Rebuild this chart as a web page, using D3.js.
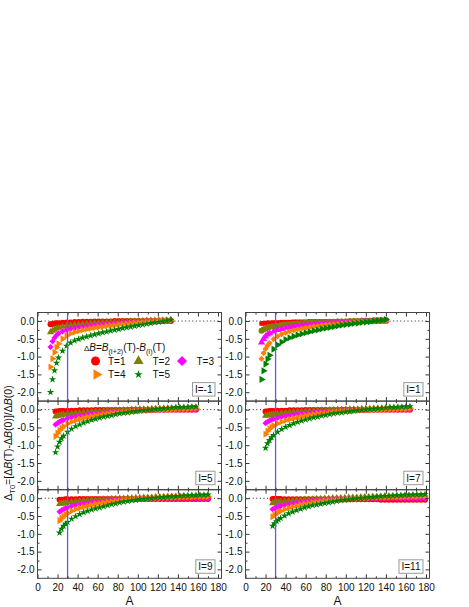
<!DOCTYPE html>
<html>
<head>
<meta charset="utf-8">
<script src="https://cdn.jsdelivr.net/npm/d3@7"></script>
<style>
	body { margin: 0; background: #fff; }
	svg { display: block; font-family: "Liberation Sans", Arial, sans-serif; }
</style>
</head>
<body>
<script>
//panel and series names
var panelNames = ["I=-1", "I=1", "I=5", "I=7", "I=9", "I=11"];
var seriesNames = ["T=1", "T=2", "T=3", "T=4", "T=5"];

//x ticks and y ticks
var xMajor = [0, 20, 40, 60, 80, 100, 120, 140, 160, 180];
var xMinor = [10, 30, 50, 70, 90, 110, 130, 150, 170];
var yMajor = [0, -0.5, -1, -1.5, -2];
var yMinor = [-0.25, -0.75, -1.25, -1.75];
var aCut = 30; //blue marker line

//I=-1
var am1 = [13,15,17,19,21,25,29,33,37,41,45,49,53,57,61,65,69,73,77,81,85,89,93,97,101,105,109,113,117,121,125,129,133];
var m1t1 = [-0.09,-0.08,-0.07,-0.06,-0.06,-0.05,-0.04,-0.04,-0.03,-0.03,-0.02,-0.02,-0.02,-0.01,-0.01,-0.01,-0.01,-0.01,0,0,0,0,0,0,0,0,0,0,0,0,0,0,0];
var m1t2 = [-0.31,-0.27,-0.24,-0.21,-0.19,-0.16,-0.14,-0.12,-0.11,-0.10,-0.09,-0.08,-0.07,-0.06,-0.06,-0.05,-0.04,-0.04,-0.03,-0.03,-0.02,-0.02,-0.01,-0.01,0,0,0.01,0.01,0.01,0.02,0.02,0.02,0.03];
var m1t3 = [-0.73,-0.57,-0.47,-0.40,-0.35,-0.29,-0.25,-0.22,-0.20,-0.18,-0.16,-0.15,-0.13,-0.12,-0.11,-0.10,-0.09,-0.08,-0.07,-0.07,-0.06,-0.05,-0.05,-0.04,-0.03,-0.03,-0.02,-0.02,-0.01,-0.01,0,0,0];
var m1t4 = [-1.29,-1.06,-0.88,-0.74,-0.64,-0.50,-0.41,-0.35,-0.31,-0.28,-0.25,-0.23,-0.21,-0.19,-0.17,-0.16,-0.14,-0.13,-0.12,-0.10,-0.09,-0.08,-0.07,-0.06,-0.05,-0.04,-0.03,-0.02,-0.01,0,0.01,0.01,0.02];
var m1t5 = [-2.00,-1.64,-1.39,-1.18,-1.03,-0.84,-0.70,-0.61,-0.55,-0.51,-0.47,-0.44,-0.41,-0.38,-0.35,-0.32,-0.30,-0.27,-0.25,-0.23,-0.20,-0.18,-0.16,-0.14,-0.12,-0.10,-0.08,-0.06,-0.04,-0.03,-0.01,0.01,0.03];

//I=1
var a1 = [16,18,20,22,24,28,32,36,40,44,48,52,56,60,64,68,72,76,80,84,88,92,96,100,104,108,112,116,120,124,128,132,136,140];
var p1t1 = [-0.07,-0.06,-0.06,-0.05,-0.05,-0.04,-0.04,-0.03,-0.03,-0.03,-0.02,-0.02,-0.02,-0.02,-0.01,-0.01,-0.01,-0.01,-0.01,-0.01,-0.01,-0.01,-0.01,-0.01,-0.01,-0.01,-0.01,-0.01,-0.01,-0.01,-0.01,-0.01,-0.01,-0.01];
var p1t2 = [-0.27,-0.24,-0.21,-0.19,-0.17,-0.15,-0.13,-0.11,-0.10,-0.09,-0.08,-0.07,-0.06,-0.05,-0.05,-0.04,-0.04,-0.03,-0.03,-0.02,-0.02,-0.01,-0.01,-0.01,0,0,0,0.01,0.01,0.01,0.02,0.02,0.02,0.03];
var p1t3 = [-0.60,-0.50,-0.43,-0.38,-0.34,-0.29,-0.25,-0.22,-0.19,-0.17,-0.15,-0.14,-0.12,-0.11,-0.10,-0.09,-0.08,-0.07,-0.06,-0.06,-0.05,-0.04,-0.04,-0.03,-0.03,-0.02,-0.02,-0.01,-0.01,-0.01,0,0,0,0.01];
var p1t4 = [-1.06,-0.90,-0.78,-0.69,-0.62,-0.51,-0.43,-0.37,-0.33,-0.29,-0.26,-0.23,-0.21,-0.19,-0.17,-0.15,-0.14,-0.12,-0.11,-0.10,-0.09,-0.08,-0.07,-0.06,-0.05,-0.04,-0.03,-0.02,-0.02,-0.01,0,0,0.01,0.01];
var p1t5 = [-1.64,-1.40,-1.21,-1.07,-0.96,-0.79,-0.67,-0.59,-0.52,-0.47,-0.43,-0.39,-0.36,-0.33,-0.30,-0.27,-0.25,-0.22,-0.20,-0.18,-0.16,-0.14,-0.12,-0.10,-0.09,-0.07,-0.06,-0.04,-0.03,-0.02,0,0.01,0.02,0.04];

//I=5
var a5 = [18,20,22,24,26,30,34,38,42,46,50,54,58,62,66,70,74,78,82,86,90,94,98,102,106,110,114,118,122,126,130,134,138,142,146,150,154,158];
var p5t1 = [-0.05,-0.05,-0.04,-0.04,-0.04,-0.03,-0.03,-0.03,-0.02,-0.02,-0.02,-0.02,-0.01,-0.01,-0.01,-0.01,-0.01,-0.01,-0.01,-0.01,-0.01,0,0,0,0,0,0,0,0,0,0,0,0,0,0,0,0,0];
var p5t2 = [-0.19,-0.17,-0.16,-0.15,-0.14,-0.12,-0.11,-0.10,-0.09,-0.08,-0.07,-0.06,-0.05,-0.05,-0.04,-0.03,-0.03,-0.02,-0.02,-0.01,-0.01,0,0,0.01,0.01,0.01,0.02,0.02,0.02,0.03,0.03,0.03,0.04,0.04,0.04,0.05,0.05,0.05];
var p5t3 = [-0.42,-0.38,-0.34,-0.31,-0.29,-0.24,-0.21,-0.19,-0.17,-0.15,-0.13,-0.12,-0.11,-0.10,-0.09,-0.08,-0.07,-0.06,-0.05,-0.05,-0.04,-0.04,-0.03,-0.03,-0.02,-0.02,-0.02,-0.01,-0.01,-0.01,0,0,0,0,0,0,0,0];
var p5t4 = [-0.75,-0.66,-0.58,-0.52,-0.47,-0.39,-0.34,-0.30,-0.26,-0.23,-0.21,-0.19,-0.17,-0.15,-0.13,-0.12,-0.10,-0.09,-0.08,-0.07,-0.06,-0.05,-0.04,-0.03,-0.02,-0.02,-0.01,0,0,0.01,0.01,0.02,0.02,0.03,0.03,0.03,0.04,0.04];
var p5t5 = [-1.20,-1.04,-0.91,-0.81,-0.74,-0.63,-0.54,-0.47,-0.42,-0.37,-0.33,-0.29,-0.26,-0.23,-0.20,-0.18,-0.16,-0.13,-0.11,-0.09,-0.08,-0.06,-0.05,-0.03,-0.02,-0.01,0,0.01,0.02,0.03,0.04,0.05,0.06,0.06,0.07,0.07,0.08,0.08];

//I=7
var a7 = [20,22,24,26,28,32,36,40,44,48,52,56,60,64,68,72,76,80,84,88,92,96,100,104,108,112,116,120,124,128,132,136,140,144,148,152,156,160,164];
var p7t1 = [-0.05,-0.05,-0.04,-0.04,-0.04,-0.03,-0.03,-0.03,-0.02,-0.02,-0.02,-0.02,-0.01,-0.01,-0.01,-0.01,-0.01,-0.01,-0.01,-0.01,-0.01,0,0,0,0,0,0,0,0,0,0,0,0,0,0,0,0,0,0];
var p7t2 = [-0.17,-0.16,-0.15,-0.14,-0.13,-0.12,-0.10,-0.09,-0.08,-0.07,-0.06,-0.06,-0.05,-0.04,-0.04,-0.03,-0.02,-0.02,-0.01,-0.01,0,0,0,0.01,0.01,0.01,0.02,0.02,0.02,0.03,0.03,0.03,0.03,0.04,0.04,0.04,0.04,0.05,0.05];
var p7t3 = [-0.38,-0.34,-0.31,-0.28,-0.26,-0.23,-0.20,-0.18,-0.16,-0.14,-0.13,-0.12,-0.10,-0.09,-0.08,-0.07,-0.07,-0.06,-0.05,-0.05,-0.04,-0.03,-0.03,-0.03,-0.02,-0.02,-0.01,-0.01,-0.01,-0.01,0,0,0,0,0,0,0,0,0];
var p7t4 = [-0.69,-0.60,-0.54,-0.49,-0.45,-0.39,-0.34,-0.30,-0.27,-0.24,-0.22,-0.19,-0.17,-0.15,-0.14,-0.12,-0.11,-0.10,-0.08,-0.07,-0.06,-0.05,-0.04,-0.04,-0.03,-0.02,-0.01,-0.01,0,0,0.01,0.01,0.02,0.02,0.02,0.03,0.03,0.03,0.04];
var p7t5 = [-1.08,-0.95,-0.86,-0.78,-0.72,-0.63,-0.55,-0.49,-0.44,-0.39,-0.35,-0.31,-0.28,-0.25,-0.22,-0.20,-0.17,-0.15,-0.13,-0.11,-0.09,-0.08,-0.06,-0.05,-0.03,-0.02,-0.01,0,0.01,0.02,0.03,0.04,0.05,0.06,0.06,0.07,0.08,0.08,0.09];

//I=9
var a9 = [22,24,26,28,30,34,38,42,46,50,54,58,62,66,70,74,78,82,86,90,94,98,102,106,110,114,118,122,126,130,134,138,142,146,150,154,158,162,166,170];
var p9t1 = [-0.04,-0.04,-0.04,-0.03,-0.03,-0.03,-0.03,-0.02,-0.02,-0.02,-0.02,-0.02,-0.02,-0.02,-0.02,-0.02,-0.02,-0.02,-0.02,-0.02,-0.02,-0.02,-0.02,-0.02,-0.02,-0.02,-0.02,-0.02,-0.02,-0.02,-0.02,-0.02,-0.02,-0.02,-0.02,-0.02,-0.02,-0.02,-0.02,-0.02];
var p9t2 = [-0.16,-0.15,-0.14,-0.13,-0.12,-0.11,-0.09,-0.08,-0.07,-0.06,-0.05,-0.05,-0.04,-0.03,-0.03,-0.02,-0.02,-0.01,-0.01,0,0,0.01,0.01,0.02,0.02,0.02,0.03,0.03,0.03,0.04,0.04,0.04,0.05,0.05,0.05,0.06,0.06,0.06,0.06,0.07];
var p9t3 = [-0.38,-0.34,-0.31,-0.28,-0.26,-0.22,-0.19,-0.17,-0.15,-0.13,-0.12,-0.10,-0.09,-0.08,-0.07,-0.06,-0.05,-0.05,-0.04,-0.03,-0.03,-0.02,-0.02,-0.01,-0.01,-0.01,0,0,0,0,0,0,0,0,0,0,0,-0.01,-0.01,-0.01];
var p9t4 = [-0.63,-0.56,-0.51,-0.46,-0.42,-0.36,-0.31,-0.27,-0.24,-0.21,-0.19,-0.16,-0.14,-0.13,-0.11,-0.10,-0.08,-0.07,-0.06,-0.05,-0.04,-0.03,-0.02,-0.01,-0.01,0,0.01,0.01,0.02,0.02,0.03,0.03,0.03,0.04,0.04,0.04,0.05,0.05,0.05,0.05];
var p9t5 = [-0.97,-0.86,-0.78,-0.72,-0.67,-0.58,-0.51,-0.45,-0.40,-0.36,-0.32,-0.29,-0.26,-0.23,-0.20,-0.17,-0.15,-0.12,-0.10,-0.08,-0.06,-0.05,-0.03,-0.02,-0.01,0,0.01,0.02,0.03,0.04,0.05,0.05,0.06,0.07,0.07,0.08,0.08,0.09,0.09,0.10];

//I=11
var a11 = [27,29,31,33,35,39,43,47,51,55,59,63,67,71,75,79,83,87,91,95,99,103,107,111,115,119,123,127,131,135,139,143,147,151,155,159,163,167,171,175,179];
var p11t1 = [-0.02,-0.02,-0.02,-0.02,-0.02,-0.03,-0.03,-0.03,-0.03,-0.03,-0.03,-0.03,-0.03,-0.03,-0.03,-0.03,-0.03,-0.03,-0.03,-0.03,-0.03,-0.03,-0.03,-0.03,-0.03,-0.03,-0.03,-0.03,-0.03,-0.04,-0.04,-0.04,-0.04,-0.04,-0.04,-0.04,-0.04,-0.04,-0.04,-0.04,-0.04];
var p11t2 = [-0.14,-0.13,-0.12,-0.11,-0.10,-0.09,-0.08,-0.07,-0.06,-0.05,-0.04,-0.04,-0.03,-0.02,-0.02,-0.01,-0.01,0,0,0.01,0.01,0.02,0.02,0.02,0.03,0.03,0.03,0.04,0.04,0.04,0.05,0.05,0.05,0.06,0.06,0.06,0.06,0.07,0.07,0.07,0.07];
var p11t3 = [-0.31,-0.28,-0.26,-0.24,-0.22,-0.19,-0.17,-0.15,-0.13,-0.11,-0.10,-0.09,-0.08,-0.07,-0.06,-0.05,-0.04,-0.04,-0.03,-0.03,-0.02,-0.02,-0.01,-0.01,-0.01,0,0,0,0,0,0,0,0,0,-0.01,-0.01,-0.01,-0.01,-0.01,-0.01,-0.01];
var p11t4 = [-0.52,-0.47,-0.43,-0.39,-0.36,-0.31,-0.27,-0.24,-0.21,-0.18,-0.16,-0.14,-0.12,-0.11,-0.09,-0.08,-0.07,-0.06,-0.05,-0.04,-0.03,-0.02,-0.01,-0.01,0,0.01,0.01,0.02,0.02,0.03,0.03,0.03,0.04,0.04,0.04,0.05,0.05,0.05,0.05,0.06,0.06];
var p11t5 = [-0.78,-0.71,-0.65,-0.60,-0.56,-0.49,-0.43,-0.38,-0.34,-0.30,-0.26,-0.23,-0.20,-0.18,-0.16,-0.14,-0.12,-0.10,-0.08,-0.06,-0.05,-0.04,-0.02,-0.01,0,0.01,0.02,0.03,0.04,0.05,0.06,0.06,0.07,0.08,0.08,0.09,0.09,0.10,0.10,0.10,0.11];

//begin script when window loads
window.onload = drawPanels();

function drawPanels(){

	//svg frame dimensions
	var width = 469,
		height = 607;

	//panel geometry
	var panelW = 184,
		panelH = 88.6,
		colLeft = [37.5, 245.5],
		rowTop = 312.5;

	var colors = ["#ff0000", "#808000", "#ff00ff", "#ff8000", "#008000"];

	//marker kinds: circle, triangle, diamond, right triangle, star, square
	var shapes = {
		circle: {type: d3.symbolCircle, rot: 0, size: 28, leg: 64},
		up: {type: d3.symbolTriangle, rot: 0, size: 22, leg: 44},
		diamond: {type: d3.symbolSquare, rot: 45, size: 19, leg: 50},
		right: {type: d3.symbolTriangle, rot: 90, size: 22, leg: 46},
		star: {type: d3.symbolStar, rot: 0, size: 17, leg: 22},
		square: {type: d3.symbolSquare, rot: 0, size: 20, leg: 40}
	};
	var legendShapes = ["circle", "up", "diamond", "right", "star"];
	//the I=1 panel was plotted with the symbol list shifted by one
	var shiftedShapes = ["square", "circle", "up", "diamond", "right"];

	var panels = [
		{name: panelNames[0], A: am1, T: [m1t1, m1t2, m1t3, m1t4, m1t5], sh: legendShapes},
		{name: panelNames[1], A: a1, T: [p1t1, p1t2, p1t3, p1t4, p1t5], sh: shiftedShapes},
		{name: panelNames[2], A: a5, T: [p5t1, p5t2, p5t3, p5t4, p5t5], sh: legendShapes},
		{name: panelNames[3], A: a7, T: [p7t1, p7t2, p7t3, p7t4, p7t5], sh: legendShapes},
		{name: panelNames[4], A: a9, T: [p9t1, p9t2, p9t3, p9t4, p9t5], sh: legendShapes},
		{name: panelNames[5], A: a11, T: [p11t1, p11t2, p11t3, p11t4, p11t5], sh: legendShapes}
	];

	//create svg container
	var svg = d3.select("body")
		.append("svg")
		.attr("width", width)
		.attr("height", height);

	var x = d3.scaleLinear()
		.domain([0, 183.5])
		.range([0, panelW]);

	var y = d3.scaleLinear()
		.domain([-2.25, 0.24])
		.range([panelH, 0]);

	var fmt = function(d){ return d.toFixed(1); };

	panels.forEach(function(p, i){
		var col = i % 2,
			row = Math.floor(i / 2);

		var g = svg.append("g")
			.attr("transform", "translate(" + colLeft[col] + "," + (rowTop + row * panelH) + ")");

		//dotted zero line
		g.append("line")
			.attr("x1", 0)
			.attr("x2", panelW)
			.attr("y1", y(0))
			.attr("y2", y(0))
			.attr("stroke", "#222")
			.attr("stroke-width", 1)
			.attr("stroke-dasharray", "1,2.6");

		//series
		p.T.forEach(function(vals, s){
			var shp = shapes[p.sh[s]];
			var sym = d3.symbol().type(shp.type).size(shp.size);
			g.append("g")
				.selectAll("path")
				.data(d3.zip(p.A, vals))
				.enter()
				.append("path")
				.attr("d", sym)
				.attr("fill", colors[s])
				.attr("transform", function(d){
					return "translate(" + x(d[0]) + "," + y(d[1]) + ") rotate(" + shp.rot + ")";
				});
		});

		//blue line at A=30, over the markers
		g.append("line")
			.attr("x1", x(aCut))
			.attr("x2", x(aCut))
			.attr("y1", 0)
			.attr("y2", panelH)
			.attr("stroke", "#5a5aff")
			.attr("stroke-width", 1.3);

		//axes, ticks inside on all sides
		g.append("g")
			.call(d3.axisLeft(y).tickValues(yMajor).tickSizeInner(-4).tickSizeOuter(0).tickPadding(3).tickFormat(fmt));
		g.append("g")
			.call(d3.axisLeft(y).tickValues(yMinor).tickSizeInner(-2).tickSizeOuter(0).tickFormat(""));
		g.append("g")
			.attr("transform", "translate(" + panelW + ",0)")
			.call(d3.axisRight(y).tickValues(yMajor).tickSizeInner(-4).tickSizeOuter(0).tickFormat(""));
		g.append("g")
			.attr("transform", "translate(" + panelW + ",0)")
			.call(d3.axisRight(y).tickValues(yMinor).tickSizeInner(-2).tickSizeOuter(0).tickFormat(""));

		g.append("g")
			.attr("transform", "translate(0," + panelH + ")")
			.call(d3.axisBottom(x).tickValues(xMajor).tickSizeInner(-4).tickSizeOuter(0).tickPadding(6)
				.tickFormat(row == 2 ? d3.format("d") : ""));
		g.append("g")
			.attr("transform", "translate(0," + panelH + ")")
			.call(d3.axisBottom(x).tickValues(xMinor).tickSizeInner(-2).tickSizeOuter(0).tickFormat(""));
		g.append("g")
			.call(d3.axisTop(x).tickValues(xMajor).tickSizeInner(-4).tickSizeOuter(0).tickFormat(""));
		g.append("g")
			.call(d3.axisTop(x).tickValues(xMinor).tickSizeInner(-2).tickSizeOuter(0).tickFormat(""));

		g.selectAll(".domain").remove();
		g.selectAll(".tick line").attr("stroke", "#333");
		g.selectAll(".tick text")
			.attr("fill", "#111")
			.style("font-size", "10px")
			.style("font-family", "'Liberation Sans', Arial, sans-serif");

		//panel frame
		g.append("rect")
			.attr("width", panelW)
			.attr("height", panelH)
			.attr("fill", "none")
			.attr("stroke", "#444")
			.attr("stroke-width", 1);

		//label box
		var box = g.append("rect");
		var lab = g.append("text")
			.attr("x", panelW - 9)
			.attr("y", panelH - 8)
			.attr("text-anchor", "end")
			.style("font-size", "10px")
			.attr("fill", "#111")
			.text(p.name);
		var tw = lab.node().getComputedTextLength();
		box.attr("x", panelW - 9 - tw - 2.5)
			.attr("y", panelH - 18.5)
			.attr("width", tw + 5)
			.attr("height", 13.5)
			.attr("fill", "#fff")
			.attr("stroke", "#999")
			.attr("stroke-width", 1);

		//x axis title
		if (row == 2){
			svg.append("text")
				.attr("x", colLeft[col] + panelW / 2)
				.attr("y", 605)
				.attr("text-anchor", "middle")
				.style("font-size", "12px")
				.attr("fill", "#111")
				.text("A");
		};
	});

	//y axis title
	var yt = svg.append("text")
		.attr("transform", "translate(12,443) rotate(-90)")
		.attr("text-anchor", "middle")
		.style("font-size", "10.5px")
		.attr("fill", "#111");
	yt.append("tspan").text("\u0394");
	yt.append("tspan").attr("dy", 3).style("font-size", "7.5px").text("T0");
	yt.append("tspan").attr("dy", -3).text("=[\u0394");
	yt.append("tspan").style("font-style", "italic").text("B");
	yt.append("tspan").text("(T)-\u0394");
	yt.append("tspan").style("font-style", "italic").text("B");
	yt.append("tspan").text("(0)]/\u0394");
	yt.append("tspan").style("font-style", "italic").text("B");
	yt.append("tspan").text("(0)");

	//legend
	var lt = svg.append("text")
		.attr("x", 84)
		.attr("y", 351)
		.style("font-size", "10px")
		.attr("fill", "#111");
	lt.append("tspan").style("font-size", "8px").text("\u0394");
	lt.append("tspan").style("font-style", "italic").text("B");
	lt.append("tspan").text("=");
	lt.append("tspan").style("font-style", "italic").text("B");
	lt.append("tspan").attr("dy", 3).style("font-size", "7px").text("(I+2)");
	lt.append("tspan").attr("dy", -3).text("(T)-");
	lt.append("tspan").style("font-style", "italic").text("B");
	lt.append("tspan").attr("dy", 3).style("font-size", "7px").text("(I)");
	lt.append("tspan").attr("dy", -3).text("(T)");

	var legX = [95.5, 138.5, 182, 96.5, 138.5],
		legY = [361, 361, 361, 374.5, 374.5],
		legTx = [108, 152.5, 196.5, 108, 152.5];

	seriesNames.forEach(function(name, s){
		var shp = shapes[legendShapes[s]];
		svg.append("path")
			.attr("d", d3.symbol().type(shp.type).size(shp.leg))
			.attr("fill", colors[s])
			.attr("transform", "translate(" + legX[s] + "," + legY[s] + ") rotate(" + shp.rot + ")");
		svg.append("text")
			.attr("x", legTx[s])
			.attr("y", legY[s] + 3.6)
			.style("font-size", "10px")
			.attr("fill", "#111")
			.text(name);
	});
};
</script>
</body>
</html>
